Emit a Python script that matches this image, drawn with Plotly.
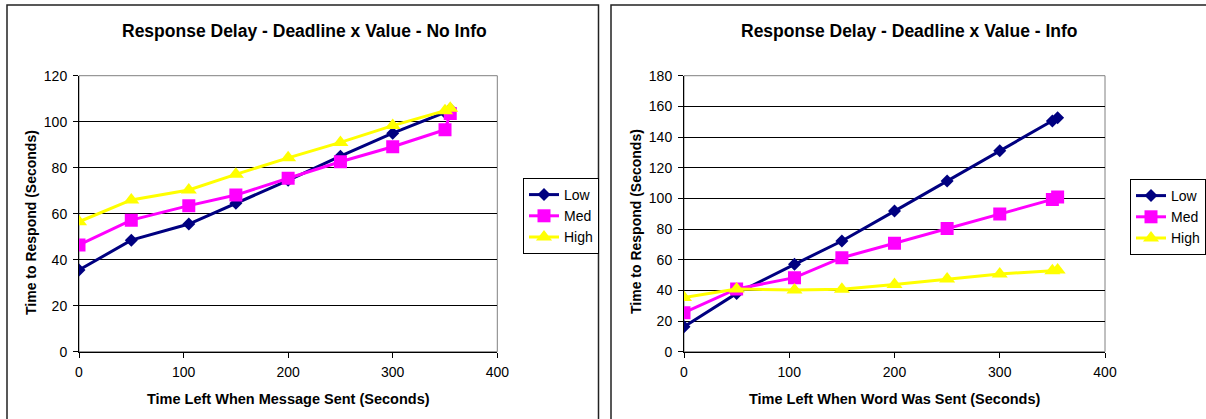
import plotly.graph_objects as go

W, H = 1206, 419

# ---- data ----
time_left = [0, 50, 105, 150, 200, 250, 300, 350, 355]

low_noinfo = [35.5, 48.5, 55.5, 64.5, 74.5, 85.0, 95.0, 104.0, 105.5]
med_noinfo = [46.4, 57.2, 63.5, 68.1, 75.4, 82.6, 89.1, 96.5, 103.6]
high_noinfo = [56.5, 66.0, 70.3, 77.1, 84.3, 91.0, 98.3, 104.8, 105.8]

low_info = [16.3, 38.0, 57.0, 72.2, 91.7, 111.3, 131.0, 150.4, 152.6]
med_info = [25.4, 40.9, 48.3, 61.3, 70.7, 80.4, 89.8, 99.3, 100.9]
high_info = [35.4, 40.9, 40.2, 40.7, 43.9, 47.4, 50.7, 52.8, 53.3]

series_names = ["Low", "Med", "High"]
colors = ["#000080", "#FF00FF", "#FFFF00"]
symbols = ["diamond", "square", "triangle-up"]
sizes = [10, 13, 14]

FONT = "Arial, Liberation Sans, Helvetica, sans-serif"


def px(x):
    return x / W


def py(y):
    return 1 - y / H


fig = go.Figure()

left_data = [low_noinfo, med_noinfo, high_noinfo]
right_data = [low_info, med_info, high_info]

for i, name in enumerate(series_names):
    fig.add_trace(go.Scatter(
        x=time_left, y=left_data[i], name=name, mode="lines+markers",
        line=dict(color=colors[i], width=3),
        marker=dict(symbol=symbols[i], size=sizes[i], color=colors[i], line=dict(width=0)),
        xaxis="x", yaxis="y", legend="legend",
    ))
for i, name in enumerate(series_names):
    fig.add_trace(go.Scatter(
        x=time_left, y=right_data[i], name=name, mode="lines+markers",
        line=dict(color=colors[i], width=3),
        marker=dict(symbol=symbols[i], size=sizes[i], color=colors[i], line=dict(width=0)),
        xaxis="x2", yaxis="y2", legend="legend2",
    ))

ydom = [py(351.7), py(75.7)]
axis_common = dict(
    showline=True, linecolor="black", linewidth=1,
    ticks="outside", ticklen=5, tickcolor="black", tickwidth=1,
    tickfont=dict(family=FONT, size=14, color="black"),
    zeroline=False, automargin=False,
)

legend_common = dict(
    xanchor="left", yanchor="top",
    bgcolor="white", bordercolor="black", borderwidth=1,
    entrywidth=66, entrywidthmode="pixels",
    font=dict(family=FONT, size=14, color="black"),
)

fig.update_layout(
    template="none",
    width=W, height=H,
    margin=dict(l=0, r=0, t=0, b=0, pad=0),
    paper_bgcolor="white", plot_bgcolor="white",
    showlegend=True,
    xaxis=dict(domain=[px(79), px(497.3)], range=[0, 400], dtick=100, anchor="y",
               showgrid=False, ticklabelstandoff=2, **axis_common),
    yaxis=dict(domain=ydom, range=[0, 120], dtick=20, anchor="x",
               showgrid=True, gridcolor="black", gridwidth=1,
               ticklabelstandoff=3, **axis_common),
    xaxis2=dict(domain=[px(684), px(1105)], range=[0, 400], dtick=100, anchor="y2",
                showgrid=False, ticklabelstandoff=2, **axis_common),
    yaxis2=dict(domain=ydom, range=[0, 180], dtick=20, anchor="x2",
                showgrid=True, gridcolor="black", gridwidth=1,
                ticklabelstandoff=3, **axis_common),
    legend=dict(x=px(523), y=py(178), **legend_common),
    legend2=dict(x=px(1130), y=py(179), **legend_common),
)

shapes = [
    # panel borders
    dict(type="rect", xref="paper", yref="paper", x0=px(7), x1=px(598.5), y0=-0.2, y1=py(5),
         line=dict(color="#222222", width=1.5), layer="below"),
    dict(type="rect", xref="paper", yref="paper", x0=px(611), x1=1.2, y0=-0.2, y1=py(5),
         line=dict(color="#222222", width=1.5), layer="below"),
    # plot area borders (grey)
    dict(type="rect", xref="x domain", yref="y domain", x0=0, x1=1, y0=0, y1=1,
         line=dict(color="#808080", width=1), layer="below"),
    dict(type="rect", xref="x2 domain", yref="y2 domain", x0=0, x1=1, y0=0, y1=1,
         line=dict(color="#808080", width=1), layer="below"),
]
fig.update_layout(shapes=shapes)

ann = []
ann.append(dict(text="<b>Response Delay - Deadline x Value - No Info</b>", x=px(304), y=py(31),
                xref="paper", yref="paper", xanchor="center", yanchor="middle", showarrow=False,
                font=dict(family=FONT, size=17.5, color="black")))
ann.append(dict(text="<b>Response Delay - Deadline x Value - Info</b>", x=px(909.5), y=py(31),
                xref="paper", yref="paper", xanchor="center", yanchor="middle", showarrow=False,
                font=dict(family=FONT, size=17.5, color="black")))
ann.append(dict(text="<b>Time Left When Message Sent (Seconds)</b>", x=px(288.5), y=py(399),
                xref="paper", yref="paper", xanchor="center", yanchor="middle", showarrow=False,
                font=dict(family=FONT, size=14.5, color="black")))
ann.append(dict(text="<b>Time Left When Word Was Sent (Seconds)</b>", x=px(894.5), y=py(399),
                xref="paper", yref="paper", xanchor="center", yanchor="middle", showarrow=False,
                font=dict(family=FONT, size=14.5, color="black")))
ann.append(dict(text="<b>Time to Respond (Seconds)</b>", x=px(31), y=py(223), textangle=-90,
                xref="paper", yref="paper", xanchor="center", yanchor="middle", showarrow=False,
                font=dict(family=FONT, size=14, color="black")))
ann.append(dict(text="<b>Time to Respond (Seconds)</b>", x=px(636), y=py(222), textangle=-90,
                xref="paper", yref="paper", xanchor="center", yanchor="middle", showarrow=False,
                font=dict(family=FONT, size=14, color="black")))
fig.update_layout(annotations=ann)

fig.write_html("out.html")
